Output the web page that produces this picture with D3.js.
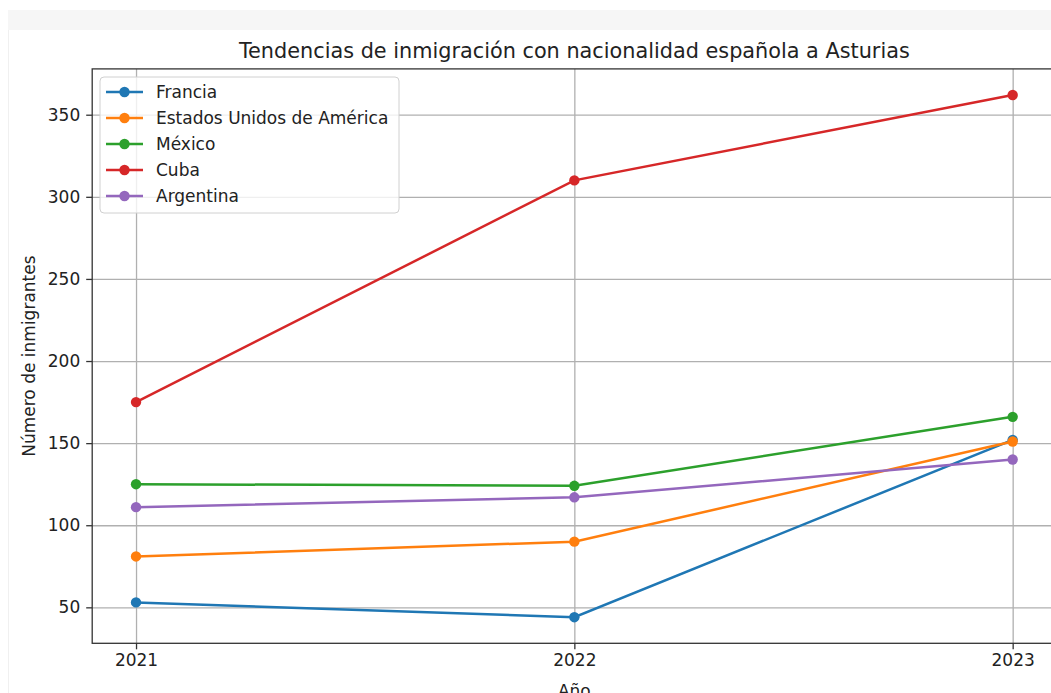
<!DOCTYPE html>
<html>
<head>
<meta charset="utf-8">
<script src="https://cdn.jsdelivr.net/npm/d3@7"></script>
<style>
  body { margin: 0; background: #fff; }
  text { font-family: "DejaVu Sans", sans-serif; fill: #222; }
  .grid line { stroke: #b0b0b0; stroke-width: 1.3; }
  .grid .domain { display: none; }
</style>
</head>
<body>
<script>
// data
var years = [2021, 2022, 2023];
var countries = ["Francia", "Estados Unidos de América", "México", "Cuba", "Argentina"];
var francia = [53, 44, 152];
var eeuu = [81, 90, 151];
var mexico = [125, 124, 166];
var cuba = [175, 310, 362];
var argentina = [111, 117, 140];
var colors = ["#1f77b4", "#ff7f0e", "#2ca02c", "#d62728", "#9467bd"];
var yTicks = [50, 100, 150, 200, 250, 300, 350];

var series = [francia, eeuu, mexico, cuba, argentina].map(function(v, i) {
    return { name: countries[i], color: colors[i], values: v.map(function(d, j) { return { year: years[j], value: d }; }) };
});

var width = 1051, height = 693;
var plot = { left: 92.2, right: 1056.5, top: 68.9, bottom: 643.3 };

var svg = d3.select("body").append("svg")
    .attr("width", width)
    .attr("height", height);

// notebook cell frame
svg.append("rect").attr("x", 8).attr("y", 10).attr("width", width - 8).attr("height", 20).attr("fill", "#f6f6f6");
svg.append("line").attr("x1", 8.5).attr("x2", 8.5).attr("y1", 30).attr("y2", height).attr("stroke", "#f0f0f0");

// matplotlib style 5% margins
var allVals = [].concat(francia, eeuu, mexico, cuba, argentina);
var ext = d3.extent(allVals), pad = (ext[1] - ext[0]) * 0.05;
var xPad = (years[years.length - 1] - years[0]) * 0.05;

var x = d3.scaleLinear().domain([years[0] - xPad, years[years.length - 1] + xPad]).range([plot.left, plot.right]);
var y = d3.scaleLinear().domain([ext[0] - pad, ext[1] + pad]).range([plot.bottom, plot.top]);

// grid
svg.append("g").attr("class", "grid")
    .attr("transform", "translate(0," + plot.top + ")")
    .call(d3.axisBottom(x).tickValues(years).tickSize(plot.bottom - plot.top).tickFormat(""));
svg.append("g").attr("class", "grid")
    .attr("transform", "translate(" + plot.left + ",0)")
    .call(d3.axisRight(y).tickValues(yTicks).tickSize(plot.right - plot.left).tickFormat(""));

// lines and markers
var line = d3.line().x(function(d) { return x(d.year); }).y(function(d) { return y(d.value); });
series.forEach(function(s) {
    var g = svg.append("g");
    g.append("path").datum(s.values)
        .attr("d", line)
        .attr("fill", "none")
        .attr("stroke", s.color)
        .attr("stroke-width", 2.5);
    g.selectAll("circle").data(s.values).enter().append("circle")
        .attr("cx", function(d) { return x(d.year); })
        .attr("cy", function(d) { return y(d.value); })
        .attr("r", 5.2)
        .attr("fill", s.color);
});

// spines
svg.append("rect")
    .attr("x", plot.left).attr("y", plot.top)
    .attr("width", plot.right - plot.left).attr("height", plot.bottom - plot.top)
    .attr("fill", "none").attr("stroke", "#333").attr("stroke-width", 1.3);

// axes
var xAxis = svg.append("g")
    .attr("transform", "translate(0," + plot.bottom + ")")
    .call(d3.axisBottom(x).tickValues(years).tickFormat(d3.format("d")).tickSize(6).tickPadding(5));
var yAxis = svg.append("g")
    .attr("transform", "translate(" + plot.left + ",0)")
    .call(d3.axisLeft(y).tickValues(yTicks).tickSize(6).tickPadding(6));
[xAxis, yAxis].forEach(function(a) {
    a.select(".domain").remove();
    a.selectAll("line").attr("stroke", "#333").attr("stroke-width", 1.3);
    a.selectAll("text").style("font-size", "17px").attr("fill", "#222");
});

// title and labels
svg.append("text")
    .attr("x", (plot.left + plot.right) / 2).attr("y", 58)
    .attr("text-anchor", "middle")
    .style("font-size", "20.8px")
    .text("Tendencias de inmigración con nacionalidad española a Asturias");

svg.append("text")
    .attr("x", (plot.left + plot.right) / 2).attr("y", 697)
    .attr("text-anchor", "middle")
    .style("font-size", "17px")
    .text("Año");

svg.append("text")
    .attr("transform", "translate(35," + ((plot.top + plot.bottom) / 2) + ") rotate(-90)")
    .attr("text-anchor", "middle")
    .style("font-size", "17px")
    .text("Número de inmigrantes");

// legend
var legend = svg.append("g").attr("transform", "translate(100,77)");
legend.append("rect")
    .attr("width", 299).attr("height", 136)
    .attr("rx", 4)
    .attr("fill", "#fff").attr("fill-opacity", 0.8)
    .attr("stroke", "#d0d0d0");
var items = legend.selectAll("g.item").data(series).enter().append("g")
    .attr("transform", function(d, i) { return "translate(0," + (15 + i * 26) + ")"; });
items.append("line").attr("x1", 6).attr("x2", 43)
    .attr("stroke", function(d) { return d.color; }).attr("stroke-width", 2.5);
items.append("circle").attr("cx", 24.5).attr("r", 5.2)
    .attr("fill", function(d) { return d.color; });
items.append("text").attr("x", 56).attr("dy", "0.35em")
    .style("font-size", "17px")
    .text(function(d) { return d.name; });
</script>
</body>
</html>
